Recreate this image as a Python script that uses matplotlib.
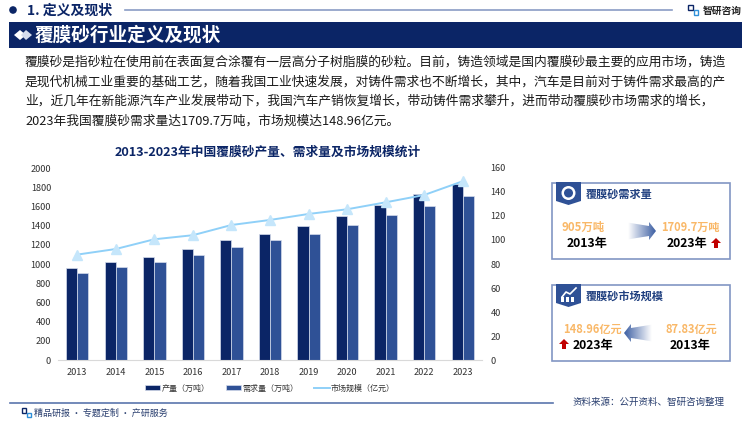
import numpy as np
import matplotlib
matplotlib.use('Agg')
import matplotlib.pyplot as plt
from matplotlib.lines import Line2D
from matplotlib.patches import Polygon, Rectangle, Circle
from matplotlib.colors import LinearSegmentedColormap

plt.rcParams['font.family'] = ['Noto Sans CJK SC', 'DejaVu Sans']

# 数据
years = ['2013', '2014', '2015', '2016', '2017', '2018', '2019', '2020', '2021', '2022', '2023']
output = [960, 1024, 1076, 1160, 1246, 1316, 1399, 1497, 1618, 1726, 1833]
demand = [905, 972, 1024, 1097, 1174, 1247, 1316, 1403, 1507, 1607, 1709.7]
market = [87.83, 92.5, 100.6, 104, 112.5, 116.7, 121.7, 125.6, 131.4, 137.5, 148.96]

body_lines = [
    '覆膜砂是指砂粒在使用前在表面复合涂覆有一层高分子树脂膜的砂粒。目前，铸造领域是国内覆膜砂最主要的应用市场，铸造',
    '是现代机械工业重要的基础工艺，随着我国工业快速发展，对铸件需求也不断增长，其中，汽车是目前对于铸件需求最高的产',
    '业，近几年在新能源汽车产业发展带动下，我国汽车产销恢复增长，带动铸件需求攀升，进而带动覆膜砂市场需求的增长，',
    '2023年我国覆膜砂需求量达1709.7万吨，市场规模达148.96亿元。',
]

NAVY = '#0b2566'
BLUE = '#2f5196'
ORANGE = '#f9b868'
W, H = 750, 421

fig = plt.figure(figsize=(7.5, 4.21), dpi=100)

# 整页用像素坐标的底层
bg = fig.add_axes([0, 0, 1, 1])
bg.set_xlim(0, W)
bg.set_ylim(H, 0)
bg.axis('off')


def txt(x, y, s, size, color='black', weight='normal', ha='left'):
    # va=center 在这个字体下偏高一点，补 1 像素
    bg.text(x, y + 1, s, fontsize=size, color=color, fontweight=weight, ha=ha, va='center')


def logo(x, y, s):
    bg.add_patch(Rectangle((x, y), s * 0.45, s * 0.5, fill=False, ec=NAVY, lw=1))
    bg.add_patch(Rectangle((x + s * 0.55, y + s * 0.5), s * 0.45, s * 0.5, fill=False, ec='#2f8fd8', lw=1))


def grad_arrow(x0, x1, y0, y1, left=False):
    # 渐变箭头
    ym = (y0 + y1) / 2
    h = (y1 - y0)
    if not left:
        pts = [(x0, ym - h * 0.42), (x1 - 7, ym - h * 0.25), (x1 - 7, y0 + 1), (x1, ym), (x1 - 7, y1 - 1),
               (x1 - 7, ym + h * 0.25), (x0, ym + h * 0.42)]
        grad = np.linspace(0, 1, 64).reshape(1, -1)
    else:
        pts = [(x1, ym - h * 0.42), (x0 + 7, ym - h * 0.25), (x0 + 7, y0 + 1), (x0, ym), (x0 + 7, y1 - 1),
               (x0 + 7, ym + h * 0.25), (x1, ym + h * 0.42)]
        grad = np.linspace(1, 0, 64).reshape(1, -1)
    cmap = LinearSegmentedColormap.from_list('a', ['#ffffff', '#3d5fa3'])
    im = bg.imshow(grad, extent=(x0, x1, y1, y0), cmap=cmap, aspect='auto', zorder=3)
    poly = Polygon(pts, transform=bg.transData, fc='none', ec='none')
    bg.add_patch(poly)
    im.set_clip_path(poly)


def red_up(x, y):
    pts = [(x, y + 5), (x + 5, y), (x + 10, y + 5), (x + 7, y + 5), (x + 7, y + 10), (x + 3, y + 10), (x + 3, y + 5)]
    bg.add_patch(Polygon(pts, fc='#c00000', ec='none', zorder=3))


def card(y0, y1, title):
    bg.add_patch(Rectangle((552, y0), 178, y1 - y0, fc='white', ec='#8296c4', lw=1.2))
    rib = [(556, y0 - 1), (581, y0 - 1), (581, y0 + 18), (568.5, y0 + 22), (556, y0 + 18)]
    bg.add_patch(Polygon(rib, fc='#2f5196', ec='none', zorder=3))
    txt(586, y0 + 10, title, 8, '#1f3f7f', 'bold')


# 顶部标题
bg.add_patch(Circle((13, 10), 3.8, fc=NAVY, ec='none'))
txt(27, 10, '1. 定义及现状', 10, NAVY, 'bold')
bg.plot([125, 672], [10, 10], color='#8a9cc5', lw=1.2)
logo(688, 5, 10)
txt(703, 9.5, '智研咨询', 7, '#222222', 'bold')

bg.add_patch(Rectangle((9, 22), 733, 26, fc=NAVY, ec='none'))
bg.add_patch(Polygon([(14, 35), (20, 30), (26, 35), (20, 40)], fc='white', ec='none'))
bg.add_patch(Polygon([(21, 35), (26, 30), (32, 35), (26, 40)], fc='#d5dcec', ec='none'))
txt(35, 34.5, '覆膜砂行业定义及现状', 13.4, 'white', 'bold')

# 正文
for s, y in zip(body_lines, [61, 81, 100.5, 120]):
    txt(25, y, s, 9.2, '#1a1a1a')

# 右侧卡片
card(183, 259, '覆膜砂需求量')
bg.add_patch(Circle((568.5, 193), 7, fc='white', ec='none', zorder=4))
bg.add_patch(Circle((568.5, 193), 4.5, fc='#2f5196', ec='none', zorder=5))
txt(583, 226, '905万吨', 8.2, ORANGE, 'bold', 'center')
txt(587, 242, '2013年', 8.8, 'black', 'bold', 'center')
grad_arrow(628, 656, 221, 241)
txt(690, 226, '1709.7万吨', 8, ORANGE, 'bold', 'center')
txt(686.5, 242, '2023年', 8.8, 'black', 'bold', 'center')
red_up(711, 238)

card(285, 361, '覆膜砂市场规模')
bg.plot([562, 566, 570, 576], [297, 292, 294, 288], color='white', lw=1.2, zorder=4)
for bx in [561, 566, 571]:
    bg.add_patch(Rectangle((bx, 297), 3, 5, fc='white', ec='none', zorder=4))
txt(592, 328, '148.96亿元', 8, ORANGE, 'bold', 'center')
txt(593, 344, '2023年', 8.8, 'black', 'bold', 'center')
red_up(559, 339)
grad_arrow(624, 652, 323, 343, left=True)
txt(691, 328, '87.83亿元', 8, ORANGE, 'bold', 'center')
txt(690.5, 344, '2013年', 8.8, 'black', 'bold', 'center')

# 页脚
bg.plot([10, 553], [402.7, 402.7], color='#5a75ad', lw=1.2)
logo(22, 408, 9)
txt(34, 412.5, '精品研报 · 专题定制 · 产研服务', 6.5, '#2a3f6f')
txt(573, 401, '资料来源：公开资料、智研咨询整理', 6.85, '#2a3f6f')

# 图表标题
txt(267.5, 151, '2013-2023年中国覆膜砂产量、需求量及市场规模统计', 9.15, NAVY, 'bold', 'center')

# 柱线图
ax = fig.add_axes([58 / W, 1 - 360 / H, (482 - 58) / W, (360 - 168) / H])
ax.patch.set_alpha(0)
x = np.arange(len(years))
bw = 0.29
b1 = ax.bar(x - bw / 2, output, bw, color=NAVY, edgecolor='#d5dcec', linewidth=0.5, label='产量（万吨）')
b2 = ax.bar(x + bw / 2, demand, bw, color=BLUE, edgecolor='#d5dcec', linewidth=0.5, label='需求量（万吨）')
ax.set_xlim(-0.5, len(years) - 0.5)
ax.set_ylim(0, 2000)
ax.set_yticks(range(0, 2001, 200))
ax.set_xticks(x)
ax.set_xticklabels(years)
ax.tick_params(length=0, labelsize=6.6, labelcolor='#333333')
ax.tick_params(axis='x', pad=6)
ax.tick_params(axis='y', pad=5)
for k in ['top', 'left', 'right']:
    ax.spines[k].set_visible(False)
ax.spines['bottom'].set_color('#d9d9d9')

ax2 = ax.twinx()
ln, = ax2.plot(x, market, color='#8fd0f8', lw=1.4, marker='^', ms=6.5, mfc='#c5e6fb', mec='#c5e6fb',
               label='市场规模（亿元）')
ax2.set_ylim(0, 160)
ax2.set_yticks(range(0, 161, 20))
ax2.tick_params(length=0, labelsize=6.6, labelcolor='#333333', pad=6)
for k in ax2.spines:
    ax2.spines[k].set_visible(False)

line_handle = Line2D([], [], color='#8fd0f8', lw=1.4)
ax.legend([b1, b2, line_handle], ['产量（万吨）', '需求量（万吨）', '市场规模（亿元）'], loc='upper center',
          bbox_to_anchor=(0.5, -0.085), ncol=3, frameon=False, fontsize=5.8, handlelength=1.9, handleheight=0.5,
          columnspacing=2.0, handletextpad=0.15, labelcolor='#333333')

fig.savefig('out.png', dpi=100)
